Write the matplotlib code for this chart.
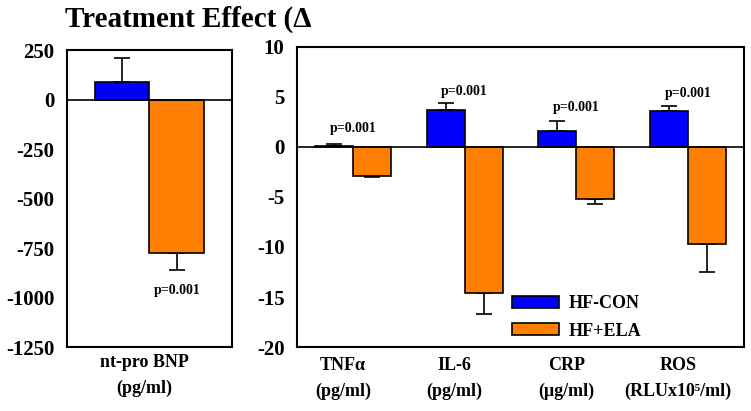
import numpy as np
import matplotlib
matplotlib.use("Agg")
import matplotlib.pyplot as plt

plt.rcParams['font.family'] = ['Liberation Serif', 'DejaVu Serif']
plt.rcParams['font.weight'] = 'bold'
plt.rcParams['axes.unicode_minus'] = False

# left panel: nt-pro BNP
bnp_label = "nt-pro BNP\n(pg/ml)"
bnp_con, bnp_con_err = 90, 120
bnp_ela, bnp_ela_err = -775, 88
bnp_p = "p=0.001"
bnp_p_y = -965

# right panel
markers = ["TNF\u03b1\n(pg/ml)", "IL-6\n(pg/ml)", "CRP\n(\u03bcg/ml)", "ROS\n(RLUx10\u2075/ml)"]
con_vals = [0.1, 3.7, 1.6, 3.6]
con_errs = [0.2, 0.7, 1.0, 0.5]
ela_vals = [-2.95, -14.6, -5.2, -9.75]
ela_errs = [0.05, 2.1, 0.5, 2.8]
p_labels = ["p=0.001", "p=0.001", "p=0.001", "p=0.001"]
p_y = [1.8, 5.5, 3.9, 5.3]

blue = "#0000ff"
orange = "#ff8000"

fig = plt.figure(figsize=(7.51, 4.11), dpi=100)
axl = fig.add_axes([0.0892, 0.1557, 0.2197, 0.7226])
axr = fig.add_axes([0.3955, 0.1557, 0.5952, 0.730])

w = 0.33
axl.bar(-w / 2, bnp_con, w, color=blue, edgecolor='black', linewidth=1.2, zorder=2)
axl.bar(w / 2, bnp_ela, w, color=orange, edgecolor='black', linewidth=1.2, zorder=2)
axl.errorbar([-w / 2], [bnp_con], yerr=[[0], [bnp_con_err]], fmt='none',
             ecolor='black', elinewidth=1.2, capsize=6, capthick=1.2, zorder=1)
axl.errorbar([w / 2], [bnp_ela], yerr=[[bnp_ela_err], [0]], fmt='none',
             ecolor='black', elinewidth=1.2, capsize=6, capthick=1.2, zorder=1)
axl.text(w / 2, bnp_p_y, bnp_p, ha='center', va='center', fontsize=10, fontweight='bold')
axl.axhline(0, color='black', lw=1.2, zorder=3)
axl.set_xlim(-0.5, 0.5)
axl.set_ylim(-1250, 250)
axl.set_yticks(np.arange(-1250, 251, 250))
axl.set_xticks([-0.03])
axl.set_xticklabels([bnp_label], linespacing=1.65)

x = np.arange(len(markers))
bw = 0.34
axr.bar(x - bw / 2, con_vals, bw, color=blue, edgecolor='black', linewidth=1.2,
        zorder=2, label="HF-CON")
axr.bar(x + bw / 2, ela_vals, bw, color=orange, edgecolor='black', linewidth=1.2,
        zorder=2, label="HF+ELA")
axr.errorbar(x - bw / 2, con_vals, yerr=[np.zeros(len(x)), con_errs], fmt='none',
             ecolor='black', elinewidth=1.2, capsize=6, capthick=1.2, zorder=1)
axr.errorbar(x + bw / 2, ela_vals, yerr=[ela_errs, np.zeros(len(x))], fmt='none',
             ecolor='black', elinewidth=1.2, capsize=6, capthick=1.2, zorder=1)
for xi, lab, yy in zip(x, p_labels, p_y):
    axr.text(xi, yy, lab, ha='center', va='center', fontsize=10, fontweight='bold')
axr.axhline(0, color='black', lw=1.2, zorder=3)
axr.set_xlim(-0.5, 3.5)
axr.set_ylim(-20, 10)
axr.set_yticks(np.arange(-20, 11, 5))
axr.set_xticks(x - 0.09)
axr.set_xticklabels(markers, linespacing=1.65)

leg = axr.legend(loc='lower left', bbox_to_anchor=(0.445, -0.03), frameon=False,
                 prop={'size': 13, 'weight': 'bold'}, handlelength=2.6,
                 handleheight=0.65, labelspacing=0.6, handletextpad=0.55)
for h in leg.legend_handles:
    h.set_edgecolor('black')
    h.set_linewidth(1.2)

for ax in (axl, axr):
    for s in ax.spines.values():
        s.set_linewidth(1.5)
    ax.tick_params(axis='y', length=0, pad=9, labelsize=15)
    ax.tick_params(axis='x', length=0, labelsize=13)
    for t in ax.get_yticklabels() + ax.get_xticklabels():
        t.set_fontweight('bold')
axl.tick_params(axis='x', pad=5)
axr.tick_params(axis='x', pad=7)

fig.text(65 / 751, 0.934, "Treatment Effect (\u0394", fontsize=21,
         fontweight='bold', ha='left', va='baseline')

fig.savefig("out.png", dpi=100)
